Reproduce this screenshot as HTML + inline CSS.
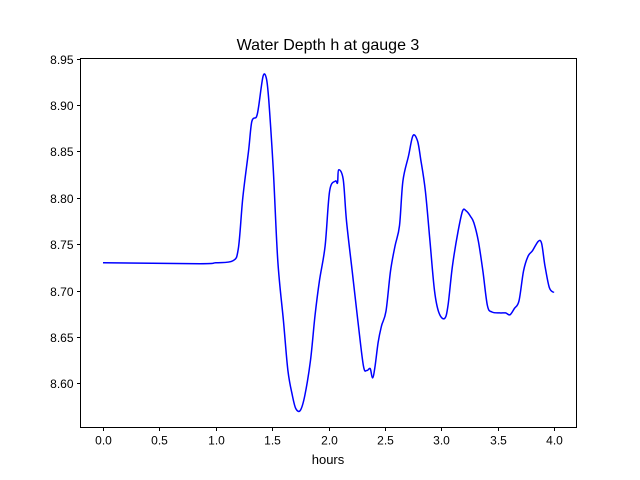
<!DOCTYPE html>
<html><head><meta charset="utf-8"><style>
body{margin:0;background:#fff;}
svg{display:block;font-family:"Liberation Sans","DejaVu Sans",sans-serif;}
</style></head><body>
<svg id="chart" width="640" height="480">
<rect width="640" height="480" fill="#fff"/>
<text x="328" y="50" text-anchor="middle" font-size="16">Water Depth h at gauge 3</text>
<g id="plot"></g>
<rect x="80.5" y="58.5" width="496" height="369" fill="none" stroke="#000" stroke-width="1"/>
<text x="328" y="464" text-anchor="middle" font-size="13">hours</text>
</svg>
<script>
const times=[0,0.86,1.0,1.15,1.2,1.24,1.29,1.32,1.36,1.38,1.42,1.45,1.47,1.51,1.55,1.6,1.64,1.68,1.71,1.75,1.79,1.84,1.88,1.92,1.97,2.01,2.06,2.08,2.09,2.13,2.16,2.21,2.26,2.31,2.34,2.37,2.39,2.41,2.44,2.47,2.51,2.55,2.59,2.63,2.66,2.71,2.75,2.79,2.82,2.86,2.9,2.94,2.98,3.03,3.06,3.1,3.15,3.19,3.22,3.26,3.29,3.33,3.37,3.41,3.45,3.52,3.57,3.61,3.65,3.69,3.73,3.77,3.81,3.86,3.89,3.92,3.96,4.0];
const depths=[8.730,8.729,8.730,8.732,8.745,8.80,8.85,8.882,8.887,8.898,8.931,8.928,8.905,8.83,8.732,8.668,8.614,8.587,8.573,8.571,8.587,8.625,8.673,8.711,8.748,8.807,8.818,8.816,8.830,8.820,8.775,8.721,8.668,8.619,8.614,8.616,8.606,8.616,8.644,8.662,8.678,8.721,8.748,8.770,8.818,8.845,8.867,8.861,8.840,8.807,8.753,8.700,8.676,8.670,8.684,8.727,8.764,8.786,8.786,8.780,8.773,8.753,8.721,8.684,8.677,8.676,8.676,8.674,8.681,8.689,8.721,8.737,8.743,8.753,8.751,8.727,8.703,8.698];
const xTicks=[0,0.5,1.0,1.5,2.0,2.5,3.0,3.5,4.0];
const xTickLabels=["0.0","0.5","1.0","1.5","2.0","2.5","3.0","3.5","4.0"];
const yTicks=[8.60,8.65,8.70,8.75,8.80,8.85,8.90,8.95];
const yTickLabels=["8.60","8.65","8.70","8.75","8.80","8.85","8.90","8.95"];

const X0=80.5,X1=576.5,Y0=58.5,Y1=427.5;
const xmin=-0.2,xmax=4.2,ymin=8.5526,ymax=8.95;
const sx=v=>X0+(v-xmin)/(xmax-xmin)*(X1-X0);
const sy=v=>Y1-(v-ymin)/(ymax-ymin)*(Y1-Y0);
const NS="http://www.w3.org/2000/svg";
const g=document.getElementById('plot');
function mk(t,a){const e=document.createElementNS(NS,t);for(const k in a)e.setAttribute(k,a[k]);g.appendChild(e);return e;}
xTicks.forEach((v,i)=>{
  const x=Math.round(sx(v))+0.5;
  const l=mk('line',{x1:x,x2:x,y1:Y1,y2:Y1+3.5,stroke:'#000'});
  
  
  const t=mk('text',{x:x,y:Y1+17,'text-anchor':'middle','font-size':'12'});
  t.textContent=xTickLabels[i];
  
  
});
yTicks.forEach((v,i)=>{
  const y=Math.round(sy(v))+0.5;
  const l=mk('line',{x1:X0-3.5,x2:X0,y1:y,y2:y,stroke:'#000'});
  
  
  const t=mk('text',{x:X0-7,y:y+4.5,'text-anchor':'end','font-size':'12'});
  t.textContent=yTickLabels[i];
  
  
});
const P=times.map((t,i)=>[sx(t),sy(depths[i])]);
let d='M'+P[0][0].toFixed(1)+','+P[0][1].toFixed(1);
for(let i=0;i<P.length-1;i++){
  const p0=P[Math.max(0,i-1)],p1=P[i],p2=P[i+1],p3=P[Math.min(P.length-1,i+2)];
  const c1x=p1[0]+(p2[0]-p0[0])/6,c1y=p1[1]+(p2[1]-p0[1])/6;
  const c2x=p2[0]-(p3[0]-p1[0])/6,c2y=p2[1]-(p3[1]-p1[1])/6;
  d+=' C'+c1x.toFixed(1)+','+c1y.toFixed(1)+' '+c2x.toFixed(1)+','+c2y.toFixed(1)+' '+p2[0].toFixed(1)+','+p2[1].toFixed(1);
}
const line=mk('path',{d:d,fill:'none',stroke:'#0000ff','stroke-width':'1.5','stroke-linejoin':'round'});


</script>
</body></html>
